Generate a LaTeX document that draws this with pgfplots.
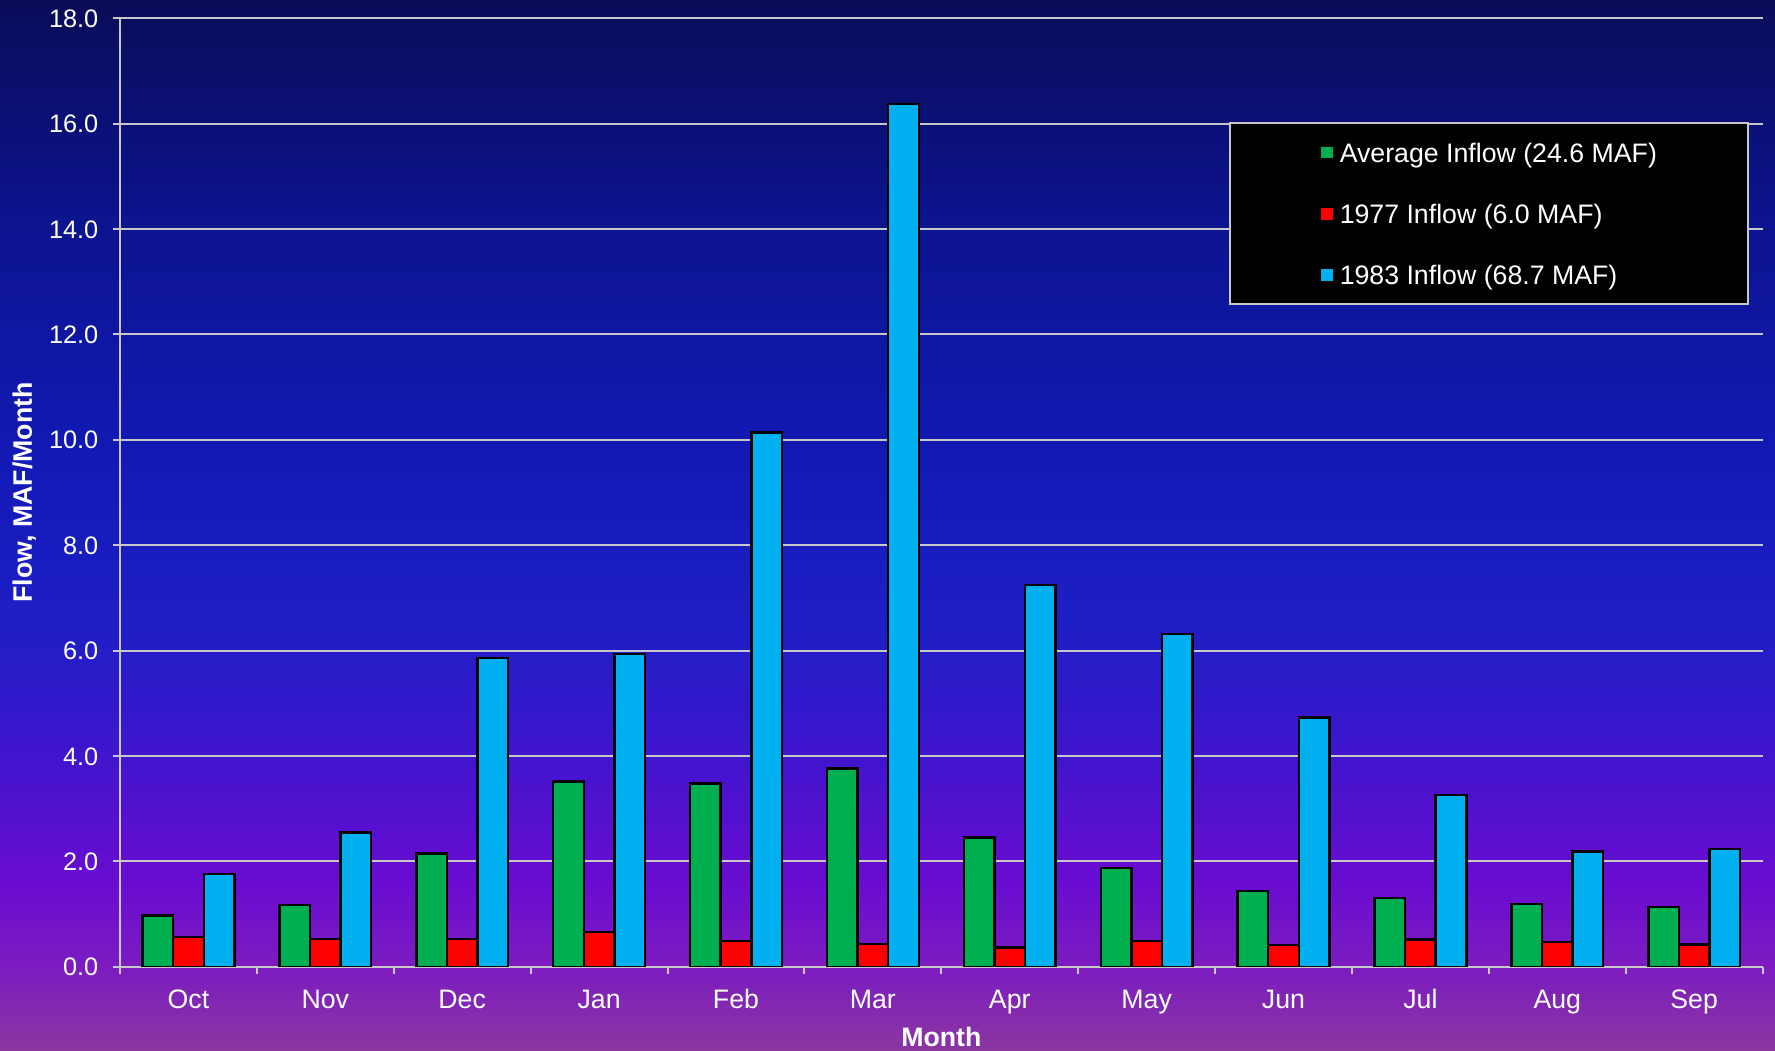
\documentclass[border=0pt]{standalone}
\usepackage{fontspec}
\setmainfont{Liberation Sans}
\usepackage{pgfplots}
\pgfplotsset{compat=1.18}
\definecolor{bgA}{HTML}{8A36A0}
\definecolor{bgB}{HTML}{7C1CC0}
\definecolor{bgC}{HTML}{6A0CD2}
\definecolor{bgD}{HTML}{3A16CC}
\definecolor{bgE}{HTML}{1E1FC6}
\definecolor{bgF}{HTML}{1219B4}
\definecolor{bgG}{HTML}{0C1490}
\definecolor{bgH}{HTML}{0A0C58}
\pgfdeclareverticalshading{bgshade}{100bp}{color(0bp)=(bgA); color(25bp)=(bgA); color(28.95bp)=(bgB); color(32.95bp)=(bgC); color(39.95bp)=(bgD); color(45.33bp)=(bgE); color(53.43bp)=(bgF); color(64.24bp)=(bgG); color(75bp)=(bgH); color(100bp)=(bgH)}
\definecolor{cgreen}{HTML}{00B050}
\definecolor{cred}{HTML}{FF0000}
\definecolor{cblue}{HTML}{00B0F0}
\definecolor{gridc}{HTML}{C8C8C8}
\pgfplotsset{sq legend/.style={legend image code/.code={\fill[##1,draw=none] (0mm,-0.585mm) rectangle (1.17mm,0.585mm);}}}
\begin{document}
\begin{tikzpicture}
\shade[shading=bgshade] (0,0) rectangle (17.75cm,10.5cm);
\begin{axis}[
  at={(1.2cm,0.832cm)}, anchor=south west,
  width=16.426cm, height=9.487cm, scale only axis,
  xmin=-0.5, xmax=11.5, ymin=0, ymax=18,
  ybar,
  bar width=3.06mm,
  axis lines=left,
  axis line style={draw=gridc, line width=0.2mm, -},
  tick align=outside,
  major tick length=0.7mm,
  tick style={draw=gridc, line width=0.2mm},
  xtick={-0.5,0.5,...,11.5},
  x tick label as interval,
  xticklabels={Oct,Nov,Dec,Jan,Feb,Mar,Apr,May,Jun,Jul,Aug,Sep},
  ytick={0,2,...,18},
  ymajorgrids,
  grid style={draw=gridc, line width=0.2mm},
  /pgf/number format/assume math mode=true,
  yticklabel style={/pgf/number format/.cd, fixed, fixed zerofill, precision=1, /tikz/.cd,
    font=\fontsize{7.2}{8.6}\selectfont, text=white, inner sep=0pt, anchor=east,
    text height=1.82mm, text depth=0pt, xshift=-1.4mm},
  xticklabel style={font=\fontsize{7.6}{9}\selectfont, text=white, inner sep=0pt, anchor=north,
    text height=1.92mm, text depth=0pt, yshift=-1.48mm},
  xlabel={Month},
  ylabel={Flow, MAF/Month},
  xlabel style={at={(axis description cs:0.5,-0.074)}, anchor=center, font=\fontsize{7.6}{9}\selectfont\bfseries,
    text=white, inner sep=0pt, text height=1.92mm, text depth=0pt},
  ylabel style={at={(axis description cs:-0.0595,0.5)}, anchor=center, rotate=0, font=\fontsize{7.6}{9}\selectfont\bfseries,
    text=white, inner sep=0pt, text height=1.92mm, text depth=0pt},
  legend style={at={(rel axis cs:0.9917,0.8905)}, anchor=north east,
    draw=gridc, line width=0.2mm, fill=black, inner xsep=9.1mm, inner ysep=2.0mm,
    row sep=4.19mm, column sep=0.67mm,
    nodes={inner sep=0pt, text height=1.92mm, text depth=0pt, text=white, font=\fontsize{7.6}{9}\selectfont}},
  legend cell align=left,
]
\addplot[ybar, bar shift=-3.06mm, fill=cgreen, draw=black, line width=0.7pt, sq legend] coordinates {
(0,0.97) (1,1.17) (2,2.15) (3,3.52) (4,3.48) (5,3.76) (6,2.45) (7,1.87) (8,1.44) (9,1.31) (10,1.19) (11,1.13)};
\addplot[ybar, bar shift=0mm, fill=cred, draw=black, line width=0.7pt, sq legend] coordinates {
(0,0.57) (1,0.53) (2,0.53) (3,0.66) (4,0.49) (5,0.43) (6,0.37) (7,0.49) (8,0.41) (9,0.52) (10,0.47) (11,0.42)};
\addplot[ybar, bar shift=3.06mm, fill=cblue, draw=black, line width=0.7pt, sq legend] coordinates {
(0,1.76) (1,2.55) (2,5.86) (3,5.93) (4,10.14) (5,16.37) (6,7.24) (7,6.31) (8,4.73) (9,3.26) (10,2.19) (11,2.24)};
\legend{Average Inflow (24.6 MAF), 1977 Inflow (6.0 MAF), 1983 Inflow (68.7 MAF)}
\end{axis}
\pgfresetboundingbox
\useasboundingbox (0,0) rectangle (17.75cm,10.5cm);
\end{tikzpicture}
\end{document}
